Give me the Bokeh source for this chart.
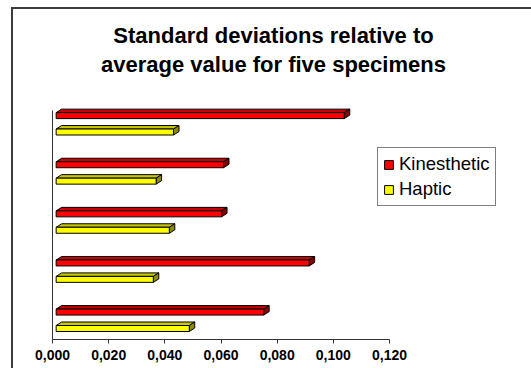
from bokeh.plotting import figure
from bokeh.models import (ColumnDataSource, Legend, LegendItem, Label,
                          FixedTicker, Range1d)
from bokeh.embed import file_html
from bokeh.resources import INLINE

# Specimens listed bottom to top
specimens = ["Specimen 1", "Specimen 2", "Specimen 3", "Specimen 4", "Specimen 5"]
kinesthetic = [0.0752, 0.0914, 0.0602, 0.0609, 0.1039]
haptic = [0.0487, 0.0359, 0.0416, 0.0369, 0.0431]
tick_values = [0.0, 0.02, 0.04, 0.06, 0.08, 0.10, 0.12]
tick_labels = ["0,000", "0,020", "0,040", "0,060", "0,080", "0,100", "0,120"]

FONT = "Liberation Sans"

# plot frame fills the chart area; axis lines are limited with bounds
X_END = 0.12 * 479 / 337
Y_START, Y_TOP, Y_END = 0.609, 5.271, 0.609 + 330 / 49.12

p = figure(width=531, height=368, tools="",
           x_range=Range1d(0, X_END), y_range=Range1d(Y_START, Y_END),
           output_backend="svg", toolbar_location=None,
           min_border_left=52, min_border_right=0,
           min_border_top=9, min_border_bottom=29)
p.toolbar.logo = None
# chart-area frame on the top and left edges (painted behind a transparent canvas)
p.styles = {"box-shadow": "inset 11px 7px 0 0 #ffffff, inset 13px 9px 0 0 #3c3c3c",
            "overflow": "hidden"}
p.outline_line_color = None
p.xgrid.visible = False
p.ygrid.visible = False
p.background_fill_color = None
p.border_fill_color = None

# pseudo-3D bar geometry (data units)
gap = 0.0013      # front face starts slightly off the wall
dx = 0.00195      # depth, horizontal
dy = 0.071        # depth, vertical
half_h = 0.061    # half height of the front face
shift = 0.167     # offset of each series from the group centre


def bar_sources(vals, offset):
    yc = [i + 1 + offset for i in range(len(vals))]
    front = ColumnDataSource(dict(
        left=[gap] * len(vals), right=vals,
        bottom=[y - half_h for y in yc], top=[y + half_h for y in yc],
        name=specimens))
    top_xs, top_ys, side_xs, side_ys = [], [], [], []
    for v, y in zip(vals, yc):
        t, b = y + half_h, y - half_h
        top_xs.append([gap, v, v + dx, gap + dx])
        top_ys.append([t, t, t + dy, t + dy])
        side_xs.append([v, v + dx, v + dx, v])
        side_ys.append([b, b + dy, t + dy, t])
    top = ColumnDataSource(dict(xs=top_xs, ys=top_ys))
    side = ColumnDataSource(dict(xs=side_xs, ys=side_ys))
    return front, top, side


def draw_series(vals, offset, c_front, c_top, c_side):
    front, top, side = bar_sources(vals, offset)
    p.patches("xs", "ys", source=top, fill_color=c_top,
              line_color="black", line_width=1)
    p.patches("xs", "ys", source=side, fill_color=c_side,
              line_color="black", line_width=1)
    return p.quad(left="left", right="right", bottom="bottom", top="top",
                  source=front, fill_color=c_front,
                  line_color="black", line_width=1)


r_kin = draw_series(kinesthetic, shift, "#ff0000", "#c40000", "#850000")
r_hap = draw_series(haptic, -shift, "#ffff00", "#c8c800", "#8a8a00")

# value axis
xa = p.xaxis[0]
xa.ticker = FixedTicker(ticks=tick_values)
xa.bounds = (tick_values[0], tick_values[-1])
xa.major_label_overrides = {v: s for v, s in zip(tick_values, tick_labels)}
xa.minor_tick_line_color = None
xa.major_tick_in = 0
xa.major_tick_out = 4
xa.axis_line_color = "#333333"
xa.major_tick_line_color = "#333333"
xa.major_label_text_font = FONT
xa.major_label_text_font_style = "bold"
xa.major_label_text_font_size = "14px"
xa.major_label_text_color = "black"
xa.major_label_standoff = 6

# category axis: bare line only
ya = p.yaxis[0]
ya.ticker = FixedTicker(ticks=[])
ya.bounds = (Y_START, Y_TOP)
ya.major_label_text_font_size = "0px"
ya.minor_tick_line_color = None
ya.major_tick_line_color = None
ya.axis_line_color = "#333333"

title = Label(x=221, y=316.5, x_units="screen", y_units="screen",
              text="Standard deviations relative to\naverage value for five specimens",
              text_align="center", text_baseline="top",
              text_font=FONT, text_font_style="bold", text_font_size="22px",
              text_line_height=1.14, text_color="black")
p.add_layout(title)

legend = Legend(items=[LegendItem(label="Kinesthetic", renderers=[r_kin]),
                       LegendItem(label="Haptic", renderers=[r_hap])],
                location=(325, 133), margin=0, padding=5, spacing=3,
                glyph_width=11, glyph_height=11, label_standoff=5,
                label_text_font=FONT, label_text_font_size="18.5px",
                label_text_color="black",
                border_line_color="black", border_line_width=1,
                background_fill_color="white", background_fill_alpha=1)
p.add_layout(legend)

open("out.html", "w").write(file_html(p, INLINE))
